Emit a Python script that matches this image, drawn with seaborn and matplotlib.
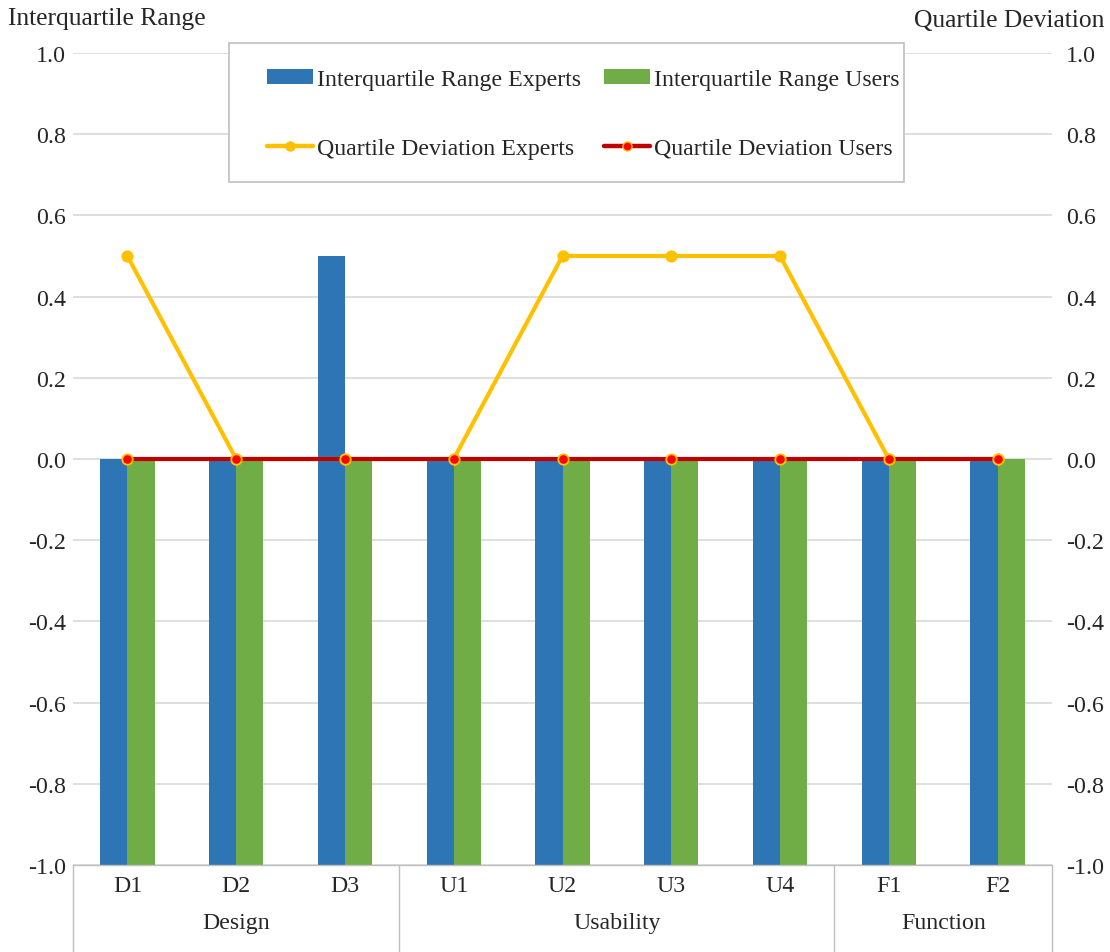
import numpy as np
import pandas as pd
import matplotlib
matplotlib.use("Agg")
import matplotlib.pyplot as plt
import matplotlib.transforms as mtransforms
from matplotlib.patches import Patch, Rectangle
from matplotlib.lines import Line2D
import seaborn as sns

# ---- data -------------------------------------------------------------
items = ["D1", "D2", "D3", "U1", "U2", "U3", "U4", "F1", "F2"]
groups = ["Design", "Usability", "Function"]
group_sizes = [3, 4, 2]

iqr_experts = [0.0, 0.0, 0.5, 0.0, 0.0, 0.0, 0.0, 0.0, 0.0]
iqr_users = [0.0, 0.0, 0.0, 0.0, 0.0, 0.0, 0.0, 0.0, 0.0]
qd_experts = [0.5, 0.0, 0.0, 0.0, 0.5, 0.5, 0.5, 0.0, 0.0]
qd_users = [0.0, 0.0, 0.0, 0.0, 0.0, 0.0, 0.0, 0.0, 0.0]

y_ticks = [-1.0, -0.8, -0.6, -0.4, -0.2, 0.0, 0.2, 0.4, 0.6, 0.8, 1.0]

# ---- style ------------------------------------------------------------
BLUE, GREEN = "#2E75B6", "#70AD47"
GOLD, DARKRED, RED = "#FFC000", "#C00000", "#FF0000"
GRID = "#D9D9D9"
FRAME = "#BFBFBF"

sns.set_theme(style="white")
plt.rcParams["font.family"] = ["Liberation Serif", "DejaVu Serif"]
plt.rcParams["axes.unicode_minus"] = False
FS = 17.2
FS_TITLE = 18.4

W, H = 1110, 953
fig = plt.figure(figsize=(W / 100, H / 100), dpi=100)
left, right, top, bottom = 73, 1052, 54, 866
ax = fig.add_axes([left / W, 1 - bottom / H, (right - left) / W, (bottom - top) / H])

bars = pd.DataFrame({
    "item": items * 2,
    "series": ["Interquartile Range Experts"] * len(items) + ["Interquartile Range Users"] * len(items),
    "value": iqr_experts + iqr_users,
})
sns.barplot(data=bars, x="item", y="value", hue="series", order=items,
            palette=[BLUE, GREEN], width=0.5, gap=0, dodge=True,
            legend=False, ax=ax, saturation=1, linewidth=0, errorbar=None)

# bars rise from the bottom of the value axis (-1.0)
floor = y_ticks[0]
for p in ax.patches:
    top_val = p.get_y() + p.get_height()
    p.set_y(floor)
    p.set_height(top_val - floor)

ax.set_ylim(y_ticks[0], y_ticks[-1])
ax.set_xlim(-0.5, len(items) - 0.5)
ax.set_yticks(y_ticks)
ax.set_yticklabels([f"{v:.1f}" for v in y_ticks], fontsize=FS)
ax.yaxis.grid(True, color=GRID, linewidth=1.2)
ax.set_axisbelow(True)
for s in ["left", "right", "top"]:
    ax.spines[s].set_visible(False)
ax.spines["bottom"].set_color(FRAME)
ax.spines["bottom"].set_linewidth(1.0)
ax.tick_params(axis="y", length=0, pad=5)
ax.set_xticks(range(len(items)))
ax.set_xticklabels(items, fontsize=FS)
ax.tick_params(axis="x", length=0, pad=7.5)
ax.set_xlabel("")
ax.set_ylabel("")

# ---- quartile deviation lines on the secondary axis -------------------
ax2 = ax.twinx()
pos = np.arange(len(items))
sns.lineplot(x=pos, y=qd_experts, ax=ax2, color=GOLD, linewidth=3.0,
             marker="o", markersize=8, markerfacecolor=GOLD,
             markeredgecolor=GOLD, zorder=3)
sns.lineplot(x=pos, y=qd_users, ax=ax2, color=DARKRED, linewidth=3.0,
             marker="o", markersize=7.5, markerfacecolor=RED,
             markeredgecolor=GOLD, markeredgewidth=1.3, zorder=4)
ax2.set_ylim(y_ticks[0], y_ticks[-1])
ax2.set_yticks(y_ticks)
ax2.set_yticklabels([f"{v:.1f}" for v in y_ticks], fontsize=FS)
ax2.tick_params(axis="y", length=0, pad=10)
ax2.grid(False)
for s in ["left", "right", "top", "bottom"]:
    ax2.spines[s].set_visible(False)
ax2.set_xlim(-0.5, len(items) - 0.5)
ax2.set_ylabel("")

# ---- axis titles ------------------------------------------------------
fig.text(8 / W, 1 - 19 / H, "Interquartile Range", fontsize=FS_TITLE, ha="left", va="center")
fig.text(1104 / W, 1 - 21 / H, "Quartile Deviation", fontsize=FS_TITLE, ha="right", va="center")

# ---- grouped category axis -------------------------------------------
trans = mtransforms.blended_transform_factory(ax.transData, ax.transAxes)
ax_h = bottom - top
depth = -(H - bottom) / ax_h
bounds = np.concatenate([[0], np.cumsum(group_sizes)]) - 0.5
for b in bounds:
    ax.add_line(Line2D([b, b], [0, depth], transform=trans, color=FRAME,
                       linewidth=1.0, clip_on=False))
label_y = -(924 - bottom) / ax_h
for g, a, b in zip(groups, bounds[:-1], bounds[1:]):
    ax.text((a + b) / 2, label_y, g, transform=trans, fontsize=FS,
            ha="center", va="center")

# ---- legend -----------------------------------------------------------
handles = [
    Patch(facecolor=BLUE, edgecolor="none"),
    Line2D([], [], color=GOLD, linewidth=3.2, marker="o", markersize=6.5,
           markerfacecolor=GOLD, markeredgecolor=GOLD),
    Patch(facecolor=GREEN, edgecolor="none"),
    Line2D([], [], color=DARKRED, linewidth=3.2, marker="o", markersize=6.5,
           markerfacecolor=RED, markeredgecolor=GOLD),
]
labels = ["Interquartile Range Experts", "Quartile Deviation Experts",
          "Interquartile Range Users", "Quartile Deviation Users"]
fig.patches.append(Rectangle((229 / W, 1 - 183 / H), (904 - 229) / W, (183 - 44) / H,
                             transform=fig.transFigure, facecolor="white",
                             edgecolor=FRAME, linewidth=1.2, zorder=2))
fig.legend(handles, labels, ncol=2, loc="upper left",
           bbox_to_anchor=(267 / W, 1 - 70 / H), frameon=False,
           fontsize=FS, borderpad=0, borderaxespad=0, handlelength=1.93,
           handleheight=0.55, handletextpad=0.17, columnspacing=0.95,
           labelspacing=2.0)

fig.savefig("out.png", dpi=100)
